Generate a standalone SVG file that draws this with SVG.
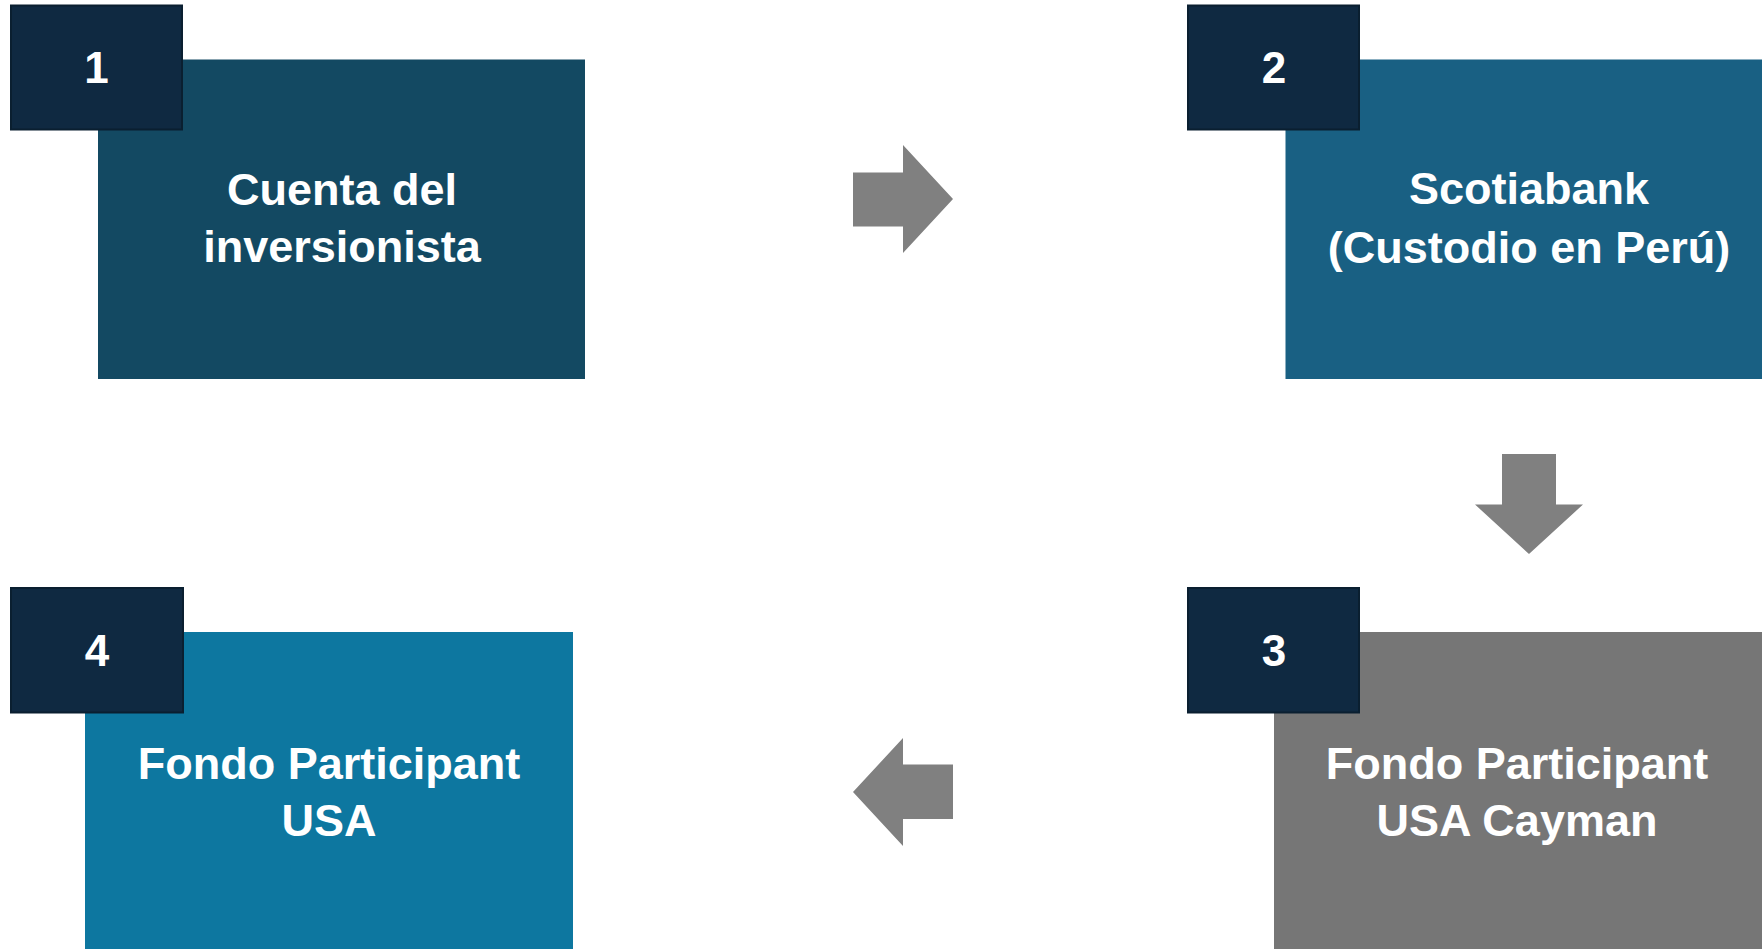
<svg xmlns="http://www.w3.org/2000/svg" width="1762" height="949" viewBox="0 0 1762 949">
  <style>
    .badge { fill: #0F2941; stroke: #0A1F30; stroke-width: 2; }
    .num { font-family: "Liberation Sans", Arial, sans-serif; font-weight: bold; font-size: 44px; fill: #FFFFFF; text-anchor: middle; }
    .lbl { font-family: "Liberation Sans", Arial, sans-serif; font-weight: bold; font-size: 45px; fill: #FFFFFF; text-anchor: middle; }
    .arrow { fill: #808080; }
  </style>
  <rect x="0" y="0" width="1762" height="949" fill="#FFFFFF"/>

  <g id="node1">
    <rect x="98" y="59.5" width="487" height="319.5" fill="#134962"/>
    <rect class="badge" x="11" y="5.5" width="171" height="124"/>
    <text class="num" x="96.5" y="83">1</text>
    <text class="lbl" x="342" y="204.5">Cuenta del</text>
    <text class="lbl" x="342" y="262">inversionista</text>
  </g>

  <g id="node2">
    <rect x="1285.5" y="59.5" width="480" height="319.5" fill="#196083"/>
    <rect class="badge" x="1188" y="5.5" width="171" height="124"/>
    <text class="num" x="1274" y="83">2</text>
    <text class="lbl" x="1529" y="204">Scotiabank</text>
    <text class="lbl" x="1529" y="262.5">(Custodio en Perú)</text>
  </g>

  <g id="node3">
    <rect x="1274" y="632" width="492" height="320" fill="#767676"/>
    <rect class="badge" x="1188" y="588" width="171" height="124.5"/>
    <text class="num" x="1274" y="666">3</text>
    <text class="lbl" x="1517" y="778.5">Fondo Participant</text>
    <text class="lbl" x="1517" y="835.5">USA Cayman</text>
  </g>

  <g id="node4">
    <rect x="85" y="632" width="488" height="320" fill="#0D77A0"/>
    <rect class="badge" x="11" y="588" width="172" height="124.5"/>
    <text class="num" x="97" y="666">4</text>
    <text class="lbl" x="329" y="778.5">Fondo Participant</text>
    <text class="lbl" x="329" y="835.5">USA</text>
  </g>

  <g id="connectors">
    <polygon class="arrow" points="853,172.5 903,172.5 903,145 953,199 903,253 903,226.5 853,226.5"/>
    <polygon class="arrow" points="1502,454 1556,454 1556,504.5 1583,504.5 1529,554 1475,504.5 1502,504.5"/>
    <polygon class="arrow" points="953,764.5 903,764.5 903,738 853,792 903,846 903,819 953,819"/>
  </g>
</svg>
